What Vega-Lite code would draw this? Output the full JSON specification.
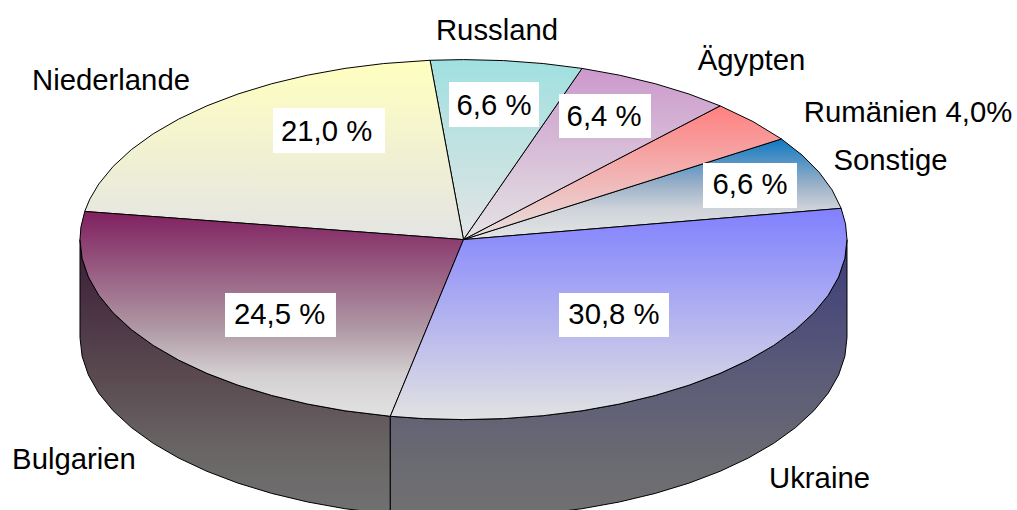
{"$schema":"https://vega.github.io/schema/vega-lite/v6.json","width":1017,"height":510,"padding":0,"autosize":{"type":"none"},"background":"white","view":{"stroke":null},
"datasets":{
"top":[
{"s":"Sonstige","i":0,"x":0,"y":0},{"s":"Sonstige","i":1,"x":0.9848,"y":0.1736},{"s":"Sonstige","i":2,"x":0.9613,"y":0.2756},{"s":"Sonstige","i":3,"x":0.9272,"y":0.3746},{"s":"Sonstige","i":4,"x":0.8829,"y":0.4695},{"s":"Sonstige","i":5,"x":0.829,"y":0.5592},{"s":"Sonstige","i":99,"x":0,"y":0},
{"s":"Rumänien","i":0,"x":0,"y":0},{"s":"Rumänien","i":1,"x":0.829,"y":0.5592},{"s":"Rumänien","i":2,"x":0.7547,"y":0.6561},{"s":"Rumänien","i":3,"x":0.6691,"y":0.7431},{"s":"Rumänien","i":99,"x":0,"y":0},
{"s":"Ägypten","i":0,"x":0,"y":0},{"s":"Ägypten","i":1,"x":0.6691,"y":0.7431},{"s":"Ägypten","i":2,"x":0.5878,"y":0.809},{"s":"Ägypten","i":3,"x":0.5,"y":0.866},{"s":"Ägypten","i":4,"x":0.4067,"y":0.9135},{"s":"Ägypten","i":5,"x":0.309,"y":0.9511},{"s":"Ägypten","i":99,"x":0,"y":0},
{"s":"Russland","i":0,"x":0,"y":0},{"s":"Russland","i":1,"x":0.309,"y":0.9511},{"s":"Russland","i":2,"x":0.2079,"y":0.9781},{"s":"Russland","i":3,"x":0.1045,"y":0.9945},{"s":"Russland","i":4,"x":0,"y":1},{"s":"Russland","i":5,"x":-0.0872,"y":0.9962},{"s":"Russland","i":99,"x":0,"y":0},
{"s":"Niederlande","i":0,"x":0,"y":0},{"s":"Niederlande","i":1,"x":-0.0872,"y":0.9962},{"s":"Niederlande","i":2,"x":-0.2079,"y":0.9781},{"s":"Niederlande","i":3,"x":-0.309,"y":0.9511},{"s":"Niederlande","i":4,"x":-0.4067,"y":0.9135},{"s":"Niederlande","i":5,"x":-0.5,"y":0.866},{"s":"Niederlande","i":6,"x":-0.5878,"y":0.809},{"s":"Niederlande","i":7,"x":-0.6691,"y":0.7431},{"s":"Niederlande","i":8,"x":-0.7431,"y":0.6691},{"s":"Niederlande","i":9,"x":-0.809,"y":0.5878},{"s":"Niederlande","i":10,"x":-0.866,"y":0.5},{"s":"Niederlande","i":11,"x":-0.9135,"y":0.4067},{"s":"Niederlande","i":12,"x":-0.9511,"y":0.309},{"s":"Niederlande","i":13,"x":-0.9744,"y":0.225},{"s":"Niederlande","i":14,"x":-0.9877,"y":0.1564},{"s":"Niederlande","i":99,"x":0,"y":0},
{"s":"Bulgarien","i":0,"x":0,"y":0},{"s":"Bulgarien","i":1,"x":-0.9877,"y":0.1564},{"s":"Bulgarien","i":2,"x":-0.9976,"y":0.0698},{"s":"Bulgarien","i":3,"x":-1,"y":0},{"s":"Bulgarien","i":4,"x":-0.9945,"y":-0.1045},{"s":"Bulgarien","i":5,"x":-0.9781,"y":-0.2079},{"s":"Bulgarien","i":6,"x":-0.9511,"y":-0.309},{"s":"Bulgarien","i":7,"x":-0.9135,"y":-0.4067},{"s":"Bulgarien","i":8,"x":-0.866,"y":-0.5},{"s":"Bulgarien","i":9,"x":-0.809,"y":-0.5878},{"s":"Bulgarien","i":10,"x":-0.7431,"y":-0.6691},{"s":"Bulgarien","i":11,"x":-0.6691,"y":-0.7431},{"s":"Bulgarien","i":12,"x":-0.5878,"y":-0.809},{"s":"Bulgarien","i":13,"x":-0.5,"y":-0.866},{"s":"Bulgarien","i":14,"x":-0.4067,"y":-0.9135},{"s":"Bulgarien","i":15,"x":-0.309,"y":-0.9511},{"s":"Bulgarien","i":16,"x":-0.1908,"y":-0.9816},{"s":"Bulgarien","i":99,"x":0,"y":0},
{"s":"Ukraine","i":0,"x":0,"y":0},{"s":"Ukraine","i":1,"x":-0.1908,"y":-0.9816},{"s":"Ukraine","i":2,"x":-0.1045,"y":-0.9945},{"s":"Ukraine","i":3,"x":0,"y":-1},{"s":"Ukraine","i":4,"x":0.1045,"y":-0.9945},{"s":"Ukraine","i":5,"x":0.2079,"y":-0.9781},{"s":"Ukraine","i":6,"x":0.309,"y":-0.9511},{"s":"Ukraine","i":7,"x":0.4067,"y":-0.9135},{"s":"Ukraine","i":8,"x":0.5,"y":-0.866},{"s":"Ukraine","i":9,"x":0.5878,"y":-0.809},{"s":"Ukraine","i":10,"x":0.6691,"y":-0.7431},{"s":"Ukraine","i":11,"x":0.7431,"y":-0.6691},{"s":"Ukraine","i":12,"x":0.809,"y":-0.5878},{"s":"Ukraine","i":13,"x":0.866,"y":-0.5},{"s":"Ukraine","i":14,"x":0.9135,"y":-0.4067},{"s":"Ukraine","i":15,"x":0.9511,"y":-0.309},{"s":"Ukraine","i":16,"x":0.9781,"y":-0.2079},{"s":"Ukraine","i":17,"x":0.9945,"y":-0.1045},{"s":"Ukraine","i":18,"x":1,"y":0},{"s":"Ukraine","i":19,"x":0.9962,"y":0.0872},{"s":"Ukraine","i":20,"x":0.9848,"y":0.1736},{"s":"Ukraine","i":99,"x":0,"y":0}
],
"side":[
{"s":"Bulgarien","x":-1,"y":0,"b":-0.544},{"s":"Bulgarien","x":-0.9945,"y":-0.1045,"b":-0.6485},{"s":"Bulgarien","x":-0.9781,"y":-0.2079,"b":-0.7519},{"s":"Bulgarien","x":-0.9511,"y":-0.309,"b":-0.853},{"s":"Bulgarien","x":-0.9135,"y":-0.4067,"b":-0.9507},{"s":"Bulgarien","x":-0.866,"y":-0.5,"b":-1.044},{"s":"Bulgarien","x":-0.809,"y":-0.5878,"b":-1.1318},{"s":"Bulgarien","x":-0.7431,"y":-0.6691,"b":-1.2131},{"s":"Bulgarien","x":-0.6691,"y":-0.7431,"b":-1.2871},{"s":"Bulgarien","x":-0.5878,"y":-0.809,"b":-1.353},{"s":"Bulgarien","x":-0.5,"y":-0.866,"b":-1.41},{"s":"Bulgarien","x":-0.4067,"y":-0.9135,"b":-1.4575},{"s":"Bulgarien","x":-0.309,"y":-0.9511,"b":-1.4951},{"s":"Bulgarien","x":-0.1908,"y":-0.9816,"b":-1.5256},
{"s":"Ukraine","x":-0.1908,"y":-0.9816,"b":-1.5256},{"s":"Ukraine","x":-0.1045,"y":-0.9945,"b":-1.5385},{"s":"Ukraine","x":0,"y":-1,"b":-1.544},{"s":"Ukraine","x":0.1045,"y":-0.9945,"b":-1.5385},{"s":"Ukraine","x":0.2079,"y":-0.9781,"b":-1.5221},{"s":"Ukraine","x":0.309,"y":-0.9511,"b":-1.4951},{"s":"Ukraine","x":0.4067,"y":-0.9135,"b":-1.4575},{"s":"Ukraine","x":0.5,"y":-0.866,"b":-1.41},{"s":"Ukraine","x":0.5878,"y":-0.809,"b":-1.353},{"s":"Ukraine","x":0.6691,"y":-0.7431,"b":-1.2871},{"s":"Ukraine","x":0.7431,"y":-0.6691,"b":-1.2131},{"s":"Ukraine","x":0.809,"y":-0.5878,"b":-1.1318},{"s":"Ukraine","x":0.866,"y":-0.5,"b":-1.044},{"s":"Ukraine","x":0.9135,"y":-0.4067,"b":-0.9507},{"s":"Ukraine","x":0.9511,"y":-0.309,"b":-0.853},{"s":"Ukraine","x":0.9781,"y":-0.2079,"b":-0.7519},{"s":"Ukraine","x":0.9945,"y":-0.1045,"b":-0.6485},{"s":"Ukraine","x":1,"y":0,"b":-0.544}
],
"values":[
{"s":"Niederlande","value":"21,0 %","x":-0.357,"y":0.5478,"x0":-0.4967,"x1":-0.2047,"y0":0.7311,"y1":0.4811},
{"s":"Russland","value":"6,6 %","x":0.0795,"y":0.6922,"x0":-0.0378,"x1":0.1969,"y0":0.8756,"y1":0.6256},
{"s":"Ägypten","value":"6,4 %","x":0.3665,"y":0.6311,"x0":0.249,"x1":0.4889,"y0":0.8089,"y1":0.5644},
{"s":"Sonstige","value":"6,6 %","x":0.7471,"y":0.2533,"x0":0.6245,"x1":0.8696,"y0":0.4256,"y1":0.1756},
{"s":"Bulgarien","value":"24,5 %","x":-0.4795,"y":-0.4689,"x0":-0.6219,"x1":-0.3325,"y0":-0.2967,"y1":-0.5411},
{"s":"Ukraine","value":"30,8 %","x":0.3924,"y":-0.4689,"x0":0.249,"x1":0.5359,"y0":-0.2967,"y1":-0.5411}
],
"names":[
{"name":"Russland","x":0.0874,"y":1.1089},
{"name":"Ägypten","x":0.751,"y":0.9422},
{"name":"Rumänien 4,0%","x":1.1591,"y":0.6533},
{"name":"Sonstige","x":1.1134,"y":0.3867},
{"name":"Niederlande","x":-0.9192,"y":0.8311},
{"name":"Bulgarien","x":-1.0156,"y":-1.2744},
{"name":"Ukraine","x":0.9283,"y":-1.38}
]},
"data":{"name":"top"},
"encoding":{
"x":{"field":"x","type":"quantitative","axis":null,"scale":{"domain":[-1.2086,1.4433],"nice":false,"zero":false}},
"y":{"field":"y","type":"quantitative","axis":null,"scale":{"domain":[-1.5022,1.3311],"nice":false,"zero":false}}
},
"layer":[
{"data":{"name":"side"},"transform":[{"filter":{"field":"s","equal":"Bulgarien"}}],"mark":{"type":"area","orient":"vertical","clip":true,"stroke":"black","strokeWidth":1,"fill":{"gradient":"linear","x1":0,"y1":0,"x2":0,"y2":1,"stops":[{"offset":0,"color":"#3a1c38"},{"offset":0.5,"color":"#5a4a50"},{"offset":0.75,"color":"#686464"},{"offset":1,"color":"#717171"}]}},"encoding":{"y2":{"field":"b"}}},
{"data":{"name":"side"},"transform":[{"filter":{"field":"s","equal":"Ukraine"}}],"mark":{"type":"area","orient":"vertical","clip":true,"stroke":"black","strokeWidth":1,"fill":{"gradient":"linear","x1":0,"y1":0,"x2":0,"y2":1,"stops":[{"offset":0,"color":"#3c3c7c"},{"offset":0.5,"color":"#5c5c78"},{"offset":0.8,"color":"#6a6a72"},{"offset":1,"color":"#717171"}]}},"encoding":{"y2":{"field":"b"}}},
{"transform":[{"filter":{"field":"s","equal":"Sonstige"}}],"mark":{"type":"line","stroke":"black","strokeWidth":1,"fill":{"gradient":"linear","x1":0,"y1":0,"x2":0,"y2":1,"stops":[{"offset":0,"color":"#0f78c2"},{"offset":0.45,"color":"#9ab0c8"},{"offset":0.7,"color":"#cfd4da"},{"offset":1,"color":"#e4e4e4"}]}},"encoding":{"order":{"field":"i"}}},
{"transform":[{"filter":{"field":"s","equal":"Rumänien"}}],"mark":{"type":"line","stroke":"black","strokeWidth":1,"fill":{"gradient":"linear","x1":0,"y1":0,"x2":0,"y2":1,"stops":[{"offset":0,"color":"#ff8080"},{"offset":1,"color":"#e6e2e2"}]}},"encoding":{"order":{"field":"i"}}},
{"transform":[{"filter":{"field":"s","equal":"Ägypten"}}],"mark":{"type":"line","stroke":"black","strokeWidth":1,"fill":{"gradient":"linear","x1":0,"y1":0,"x2":0,"y2":1,"stops":[{"offset":0,"color":"#cc99cc"},{"offset":1,"color":"#e4e4e4"}]}},"encoding":{"order":{"field":"i"}}},
{"transform":[{"filter":{"field":"s","equal":"Russland"}}],"mark":{"type":"line","stroke":"black","strokeWidth":1,"fill":{"gradient":"linear","x1":0,"y1":0,"x2":0,"y2":1,"stops":[{"offset":0,"color":"#a0e0e0"},{"offset":1,"color":"#e4e4e4"}]}},"encoding":{"order":{"field":"i"}}},
{"transform":[{"filter":{"field":"s","equal":"Niederlande"}}],"mark":{"type":"line","stroke":"black","strokeWidth":1,"fill":{"gradient":"linear","x1":0,"y1":0,"x2":0,"y2":1,"stops":[{"offset":0,"color":"#ffffc0"},{"offset":1,"color":"#e4e4e4"}]}},"encoding":{"order":{"field":"i"}}},
{"transform":[{"filter":{"field":"s","equal":"Bulgarien"}}],"mark":{"type":"line","stroke":"black","strokeWidth":1,"fill":{"gradient":"linear","x1":0,"y1":0,"x2":0,"y2":1,"stops":[{"offset":0,"color":"#802060"},{"offset":0.58,"color":"#b09aa5"},{"offset":0.8,"color":"#d4d0d2"},{"offset":1,"color":"#e2e2e2"}]}},"encoding":{"order":{"field":"i"}}},
{"transform":[{"filter":{"field":"s","equal":"Ukraine"}}],"mark":{"type":"line","stroke":"black","strokeWidth":1,"fill":{"gradient":"linear","x1":0,"y1":0,"x2":0,"y2":1,"stops":[{"offset":0,"color":"#8080ff"},{"offset":1,"color":"#e2e2e2"}]}},"encoding":{"order":{"field":"i"}}},
{"data":{"name":"values"},"mark":{"type":"rect","fill":"white"},"encoding":{"x":{"field":"x0","type":"quantitative"},"x2":{"field":"x1"},"y":{"field":"y0","type":"quantitative"},"y2":{"field":"y1"}}},
{"data":{"name":"values"},"mark":{"type":"text","font":"Liberation Sans","fontSize":29.3,"align":"center","baseline":"alphabetic","fill":"black"},"encoding":{"text":{"field":"value"}}},
{"data":{"name":"names"},"mark":{"type":"text","font":"Liberation Sans","fontSize":29.3,"align":"center","baseline":"alphabetic","fill":"black"},"encoding":{"text":{"field":"name"}}}
]}
